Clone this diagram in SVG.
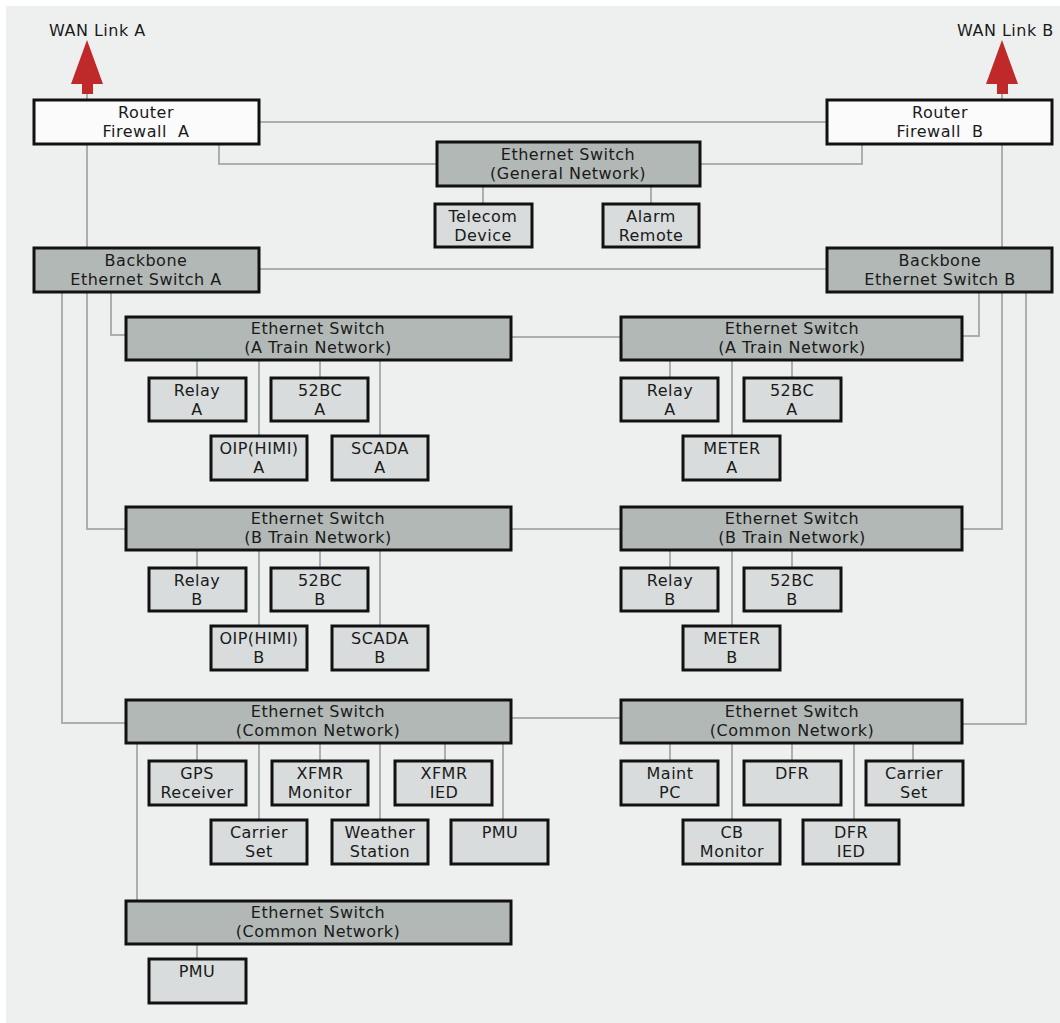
<svg xmlns="http://www.w3.org/2000/svg" width="1060" height="1023" viewBox="0 0 1060 1023">
<defs>
<style>
.bg{fill:#eef0ef}
.sw{fill:#b2b8b6;stroke:#111;stroke-width:3}
.dv{fill:#d9dcdc;stroke:#111;stroke-width:3}
.rt{fill:#fbfbfb;stroke:#111;stroke-width:3}
.ln{fill:none;stroke:#a9b0ae;stroke-width:2}
text{font-family:"DejaVu Sans","Noto Sans",sans-serif;font-size:16px;letter-spacing:0.5px;fill:#1a1a1a;text-anchor:middle;white-space:pre}
.wan{text-anchor:start}
.arr{fill:#c0292a}
</style>
</defs>
<rect class="bg" x="6" y="6" width="1054" height="1017"/>
<g id="connectors">
<path class="ln" d="M87 94V248M259 122H827M219 144V164H437M701 164H862V144M1002 94V248"/>
<path class="ln" d="M483 186V204M651 186V204M259 269H827"/>
<path class="ln" d="M111 292V335H126M511 337H622M962 336H979V292"/>
<path class="ln" d="M87 292V529H126M511 529H622M962 529H1002V292"/>
<path class="ln" d="M62 292V723H126M511 718H622M962 724H1026V292"/>
<path class="ln" d="M197 360V378M320 360V378M259 360V436M380 360V436M670 360V378M792 360V378M732 360V436"/>
<path class="ln" d="M197 550V568M320 550V568M259 550V626M380 550V626M670 550V568M792 550V568M732 550V626"/>
<path class="ln" d="M197 743V761M320 743V761M445 743V761M259 743V820M380 743V820M503 743V820M137 743V901"/>
<path class="ln" d="M670 743V761M792 743V761M913 743V761M732 743V820M854 743V820M197 944V959"/>
</g>
<g id="wan-a"><path class="arr" d="M87 40L103 84H93V94H82V84H71Z"/><text class="wan" x="49" y="36">WAN Link A</text></g>
<g id="wan-b"><path class="arr" d="M1002 40L1018 84H1008V94H997V84H986Z"/><text class="wan" x="957" y="36">WAN Link B</text></g>
<g id="router-a"><rect class="rt" x="34" y="100" width="225" height="44"/><text x="146" y="118">Router</text><text x="146" y="137">Firewall  A</text></g>
<g id="router-b"><rect class="rt" x="827" y="100" width="225" height="44"/><text x="940" y="118">Router</text><text x="940" y="137">Firewall  B</text></g>
<g id="sw-general"><rect class="sw" x="437" y="142" width="263" height="44"/><text x="568" y="160">Ethernet Switch</text><text x="568" y="179">(General Network)</text></g>
<g id="telecom"><rect class="dv" x="435" y="204" width="97" height="43"/><text x="483" y="222">Telecom</text><text x="483" y="241">Device</text></g>
<g id="alarm"><rect class="dv" x="603" y="204" width="96" height="43"/><text x="651" y="222">Alarm</text><text x="651" y="241">Remote</text></g>
<g id="backbone-a"><rect class="sw" x="34" y="248" width="225" height="44"/><text x="146" y="266">Backbone</text><text x="146" y="285">Ethernet Switch A</text></g>
<g id="backbone-b"><rect class="sw" x="827" y="248" width="225" height="44"/><text x="940" y="266">Backbone</text><text x="940" y="285">Ethernet Switch B</text></g>
<g id="atrain-1"><rect class="sw" x="126" y="317" width="385" height="43"/><text x="318" y="334">Ethernet Switch</text><text x="318" y="353">(A Train Network)</text></g>
<g id="atrain-2"><rect class="sw" x="621" y="317" width="341" height="43"/><text x="792" y="334">Ethernet Switch</text><text x="792" y="353">(A Train Network)</text></g>
<g id="relay-a1"><rect class="dv" x="149" y="378" width="97" height="43"/><text x="197" y="396">Relay</text><text x="197" y="415">A</text></g>
<g id="bc-a1"><rect class="dv" x="271" y="378" width="97" height="43"/><text x="320" y="396">52BC</text><text x="320" y="415">A</text></g>
<g id="oip-a"><rect class="dv" x="211" y="436" width="96" height="44"/><text x="259" y="454">OIP(HIMI)</text><text x="259" y="473">A</text></g>
<g id="scada-a"><rect class="dv" x="332" y="436" width="96" height="44"/><text x="380" y="454">SCADA</text><text x="380" y="473">A</text></g>
<g id="relay-a2"><rect class="dv" x="621" y="378" width="97" height="43"/><text x="670" y="396">Relay</text><text x="670" y="415">A</text></g>
<g id="bc-a2"><rect class="dv" x="744" y="378" width="97" height="43"/><text x="792" y="396">52BC</text><text x="792" y="415">A</text></g>
<g id="meter-a"><rect class="dv" x="683" y="436" width="97" height="44"/><text x="732" y="454">METER</text><text x="732" y="473">A</text></g>
<g id="btrain-1"><rect class="sw" x="126" y="507" width="385" height="43"/><text x="318" y="524">Ethernet Switch</text><text x="318" y="543">(B Train Network)</text></g>
<g id="btrain-2"><rect class="sw" x="621" y="507" width="341" height="43"/><text x="792" y="524">Ethernet Switch</text><text x="792" y="543">(B Train Network)</text></g>
<g id="relay-b1"><rect class="dv" x="149" y="568" width="97" height="43"/><text x="197" y="586">Relay</text><text x="197" y="605">B</text></g>
<g id="bc-b1"><rect class="dv" x="271" y="568" width="97" height="43"/><text x="320" y="586">52BC</text><text x="320" y="605">B</text></g>
<g id="oip-b"><rect class="dv" x="211" y="626" width="96" height="44"/><text x="259" y="644">OIP(HIMI)</text><text x="259" y="663">B</text></g>
<g id="scada-b"><rect class="dv" x="332" y="626" width="96" height="44"/><text x="380" y="644">SCADA</text><text x="380" y="663">B</text></g>
<g id="relay-b2"><rect class="dv" x="621" y="568" width="97" height="43"/><text x="670" y="586">Relay</text><text x="670" y="605">B</text></g>
<g id="bc-b2"><rect class="dv" x="744" y="568" width="97" height="43"/><text x="792" y="586">52BC</text><text x="792" y="605">B</text></g>
<g id="meter-b"><rect class="dv" x="683" y="626" width="97" height="44"/><text x="732" y="644">METER</text><text x="732" y="663">B</text></g>
<g id="common-1"><rect class="sw" x="126" y="700" width="385" height="43"/><text x="318" y="717">Ethernet Switch</text><text x="318" y="736">(Common Network)</text></g>
<g id="common-2"><rect class="sw" x="621" y="700" width="341" height="43"/><text x="792" y="717">Ethernet Switch</text><text x="792" y="736">(Common Network)</text></g>
<g id="gps"><rect class="dv" x="149" y="761" width="97" height="44"/><text x="197" y="779">GPS</text><text x="197" y="798">Receiver</text></g>
<g id="xfmr-mon"><rect class="dv" x="272" y="761" width="96" height="44"/><text x="320" y="779">XFMR</text><text x="320" y="798">Monitor</text></g>
<g id="xfmr-ied"><rect class="dv" x="395" y="761" width="97" height="44"/><text x="444" y="779">XFMR</text><text x="444" y="798">IED</text></g>
<g id="carrier-1"><rect class="dv" x="211" y="820" width="96" height="44"/><text x="259" y="838">Carrier</text><text x="259" y="857">Set</text></g>
<g id="weather"><rect class="dv" x="332" y="820" width="96" height="44"/><text x="380" y="838">Weather</text><text x="380" y="857">Station</text></g>
<g id="pmu-1"><rect class="dv" x="451" y="820" width="97" height="44"/><text x="500" y="838">PMU</text></g>
<g id="maint"><rect class="dv" x="621" y="761" width="97" height="44"/><text x="670" y="779">Maint</text><text x="670" y="798">PC</text></g>
<g id="dfr"><rect class="dv" x="744" y="761" width="97" height="44"/><text x="792" y="779">DFR</text></g>
<g id="carrier-2"><rect class="dv" x="866" y="761" width="97" height="44"/><text x="914" y="779">Carrier</text><text x="914" y="798">Set</text></g>
<g id="cb-mon"><rect class="dv" x="683" y="820" width="97" height="44"/><text x="732" y="838">CB</text><text x="732" y="857">Monitor</text></g>
<g id="dfr-ied"><rect class="dv" x="803" y="820" width="96" height="44"/><text x="851" y="838">DFR</text><text x="851" y="857">IED</text></g>
<g id="common-3"><rect class="sw" x="126" y="901" width="385" height="43"/><text x="318" y="918">Ethernet Switch</text><text x="318" y="937">(Common Network)</text></g>
<g id="pmu-2"><rect class="dv" x="149" y="959" width="97" height="44"/><text x="197" y="977">PMU</text></g>
</svg>
